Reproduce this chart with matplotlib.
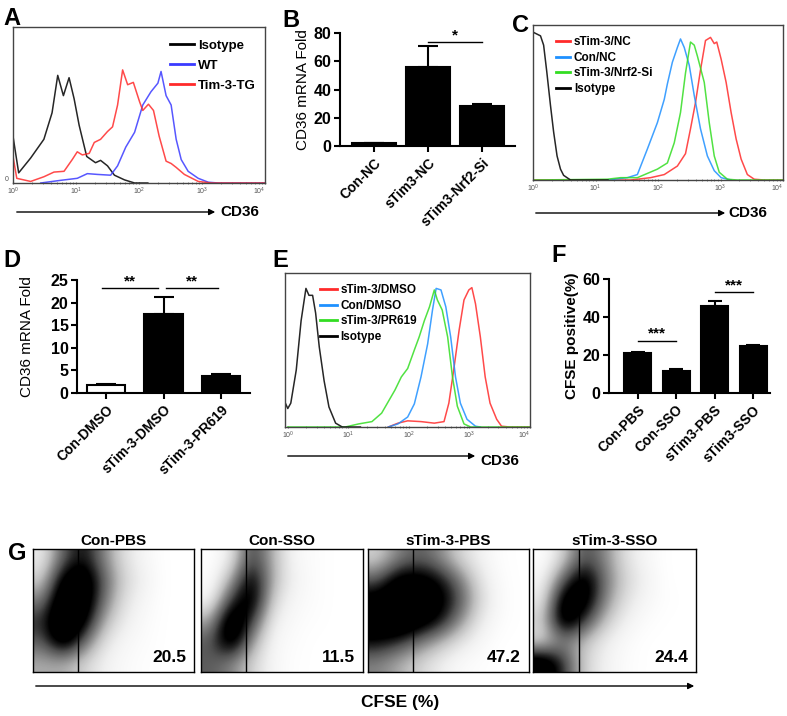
import numpy as np
import matplotlib
matplotlib.use("Agg")
from matplotlib import pyplot as plt

plt.rcParams['font.family'] = ['Liberation Sans', 'DejaVu Sans']

# ---- A: flow histograms (log10 CD36, fraction of axis height)
a_iso_x = [0, 0.09, 0.28, 0.49, 0.62, 0.71, 0.80, 0.89, 0.97, 1.05, 1.17, 1.31, 1.39, 1.50, 1.61, 1.77, 1.93, 2.14]
a_iso_y = [0.30, 0.065, 0.16, 0.28, 0.45, 0.69, 0.56, 0.675, 0.54, 0.37, 0.17, 0.13, 0.145, 0.11, 0.05, 0.02, 0.0, 0.0]
a_wt_x = [0.44, 0.755, 1.02, 1.18, 1.34, 1.55, 1.66, 1.79, 1.93, 2.06, 2.19, 2.30, 2.35, 2.43, 2.51, 2.59, 2.67, 2.78, 2.94, 3.10, 3.26, 4.0]
a_wt_y = [0.0, 0.017, 0.03, 0.06, 0.055, 0.05, 0.11, 0.23, 0.325, 0.50, 0.585, 0.64, 0.715, 0.56, 0.50, 0.28, 0.15, 0.075, 0.03, 0.005, 0.0, 0.0]
a_tg_x = [0, 0.06, 0.28, 0.49, 0.65, 0.81, 0.94, 1.02, 1.10, 1.21, 1.29, 1.39, 1.50, 1.58, 1.66, 1.74, 1.82, 1.91, 2.01, 2.06,
          2.15, 2.23, 2.32, 2.43, 2.51, 2.59, 2.72, 2.94, 3.15, 4.0]
a_tg_y = [0.17, 0.03, 0.01, 0.04, 0.07, 0.075, 0.15, 0.20, 0.18, 0.19, 0.26, 0.28, 0.33, 0.36, 0.50, 0.725, 0.63, 0.645, 0.52, 0.465,
          0.505, 0.465, 0.30, 0.14, 0.125, 0.10, 0.055, 0.01, 0.0, 0.0]

# ---- C
c_red_x = [0, 1.56, 1.88, 2.10, 2.31, 2.44, 2.52, 2.60, 2.68, 2.76, 2.84, 2.90, 2.94, 3.01, 3.09, 3.17, 3.25, 3.33, 3.43, 3.54, 3.70, 4.0]
c_red_y = [0, 0.0, 0.015, 0.035, 0.09, 0.17, 0.33, 0.50, 0.71, 0.90, 0.92, 0.88, 0.89, 0.78, 0.63, 0.435, 0.265, 0.135, 0.035, 0.005, 0.0, 0.0]
c_blue_x = [1.19, 1.51, 1.67, 1.83, 1.99, 2.10, 2.15, 2.23, 2.31, 2.36, 2.42, 2.50, 2.58, 2.68, 2.79, 2.90, 3.01, 3.17]
c_blue_y = [0.0, 0.015, 0.035, 0.20, 0.37, 0.52, 0.62, 0.76, 0.855, 0.91, 0.855, 0.74, 0.545, 0.33, 0.155, 0.06, 0.015, 0.0]
c_green_x = [0, 1.19, 1.40, 1.67, 1.99, 2.15, 2.26, 2.36, 2.44, 2.52, 2.58, 2.63, 2.74, 2.82, 2.90, 2.98, 3.11, 3.27, 4.0]
c_green_y = [0, 0.005, 0.015, 0.015, 0.07, 0.11, 0.24, 0.435, 0.69, 0.89, 0.87, 0.80, 0.63, 0.37, 0.155, 0.05, 0.005, 0.0, 0.0]
c_iso_x = [0.02, 0.12, 0.17, 0.22, 0.28, 0.33, 0.385, 0.44, 0.49, 0.60, 1.2]
c_iso_y = [0.95, 0.93, 0.87, 0.70, 0.48, 0.31, 0.155, 0.07, 0.03, 0.0, 0.0]

# ---- E
e_red_x = [1.66, 1.82, 1.98, 2.20, 2.42, 2.58, 2.66, 2.74, 2.83, 2.91, 2.99, 3.04, 3.10, 3.18, 3.26, 3.34, 3.45, 3.53, 3.67, 4.0]
e_red_y = [0.0, 0.025, 0.04, 0.035, 0.025, 0.035, 0.155, 0.37, 0.63, 0.825, 0.89, 0.905, 0.80, 0.585, 0.325, 0.155, 0.05, 0.005, 0.0, 0.0]
e_blue_x = [1.66, 1.82, 1.98, 2.09, 2.20, 2.31, 2.39, 2.45, 2.53, 2.61, 2.69, 2.77, 2.85, 2.96, 3.10, 3.18]
e_blue_y = [0.0, 0.02, 0.065, 0.15, 0.325, 0.54, 0.76, 0.90, 0.89, 0.78, 0.585, 0.325, 0.155, 0.05, 0.005, 0.0]
e_green_x = [0, 0.95, 1.17, 1.39, 1.55, 1.66, 1.77, 1.875, 1.98, 2.09, 2.17, 2.255, 2.34, 2.42, 2.47, 2.55, 2.64, 2.72, 2.80, 2.91, 3.02, 4.0]
e_green_y = [0, 0.0, 0.02, 0.035, 0.09, 0.165, 0.24, 0.325, 0.38, 0.50, 0.585, 0.69, 0.78, 0.89, 0.825, 0.76, 0.585, 0.325, 0.135, 0.02, 0.0, 0.0]
e_iso_x = [-0.04, 0.0, 0.05, 0.14, 0.22, 0.30, 0.35, 0.41, 0.46, 0.52, 0.60, 0.68, 0.79, 0.90, 1.2]
e_iso_y = [0.155, 0.12, 0.155, 0.37, 0.69, 0.90, 0.855, 0.855, 0.74, 0.52, 0.30, 0.13, 0.025, 0.0, 0.0]

# ---- bar charts
b_labels = ["Con-NC", "sTim3-NC", "sTim3-Nrf2-Si"]
b_vals = [1.8, 56, 28.5]
b_errs = [0.3, 15, 1.5]

d_labels = ["Con-DMSO", "sTim-3-DMSO", "sTim-3-PR619"]
d_vals = [1.7, 17.5, 3.8]
d_errs = [0.3, 3.8, 0.5]

f_labels = ["Con-PBS", "Con-SSO", "sTim3-PBS", "sTim3-SSO"]
f_vals = [21, 11.8, 46, 24.5]
f_errs = [0.8, 0.6, 2.5, 0.8]

# ---- G: estimated dot density (rows top->bottom, cols left->right)
g_titles = ["Con-PBS", "Con-SSO", "sTim-3-PBS", "sTim-3-SSO"]
g_values = ["20.5", "11.5", "47.2", "24.4"]
g_density = [
    [[0.10, 0.50, 0.70, 0.40, 0.15, 0.05, 0, 0],
     [0.20, 0.80, 0.90, 0.50, 0.20, 0.08, 0, 0],
     [0.40, 0.95, 0.90, 0.45, 0.15, 0.05, 0, 0],
     [0.60, 1.00, 0.80, 0.30, 0.10, 0.03, 0, 0],
     [0.50, 0.90, 0.50, 0.15, 0.05, 0.02, 0, 0],
     [0.30, 0.30, 0.20, 0.08, 0.03, 0.01, 0, 0]],
    [[0.00, 0.10, 0.60, 0.30, 0.05, 0.02, 0, 0],
     [0.00, 0.30, 0.80, 0.30, 0.08, 0.02, 0, 0],
     [0.05, 0.60, 0.85, 0.20, 0.05, 0.02, 0, 0],
     [0.30, 0.95, 0.60, 0.10, 0.03, 0.01, 0, 0],
     [0.50, 0.90, 0.35, 0.05, 0.02, 0, 0, 0],
     [0.50, 0.40, 0.20, 0.05, 0.01, 0, 0, 0]],
    [[0.20, 0.40, 0.50, 0.40, 0.20, 0.08, 0.01, 0],
     [0.50, 0.80, 0.80, 0.70, 0.45, 0.15, 0.02, 0],
     [0.80, 0.95, 0.90, 0.80, 0.55, 0.20, 0.03, 0],
     [0.90, 1.00, 0.85, 0.70, 0.40, 0.12, 0.02, 0],
     [0.70, 0.60, 0.45, 0.30, 0.15, 0.05, 0, 0],
     [0.40, 0.30, 0.20, 0.10, 0.03, 0.01, 0, 0]],
    [[0.00, 0.20, 0.55, 0.40, 0.15, 0.05, 0, 0],
     [0.05, 0.50, 0.85, 0.45, 0.20, 0.08, 0, 0],
     [0.10, 0.85, 0.85, 0.40, 0.15, 0.05, 0.01, 0],
     [0.20, 0.90, 0.60, 0.25, 0.08, 0.02, 0, 0],
     [0.15, 0.40, 0.25, 0.10, 0.03, 0, 0, 0],
     [0.90, 0.60, 0.20, 0.08, 0.02, 0, 0, 0]],
]
gate_x = 0.28

RED = "#ff2a2a"
BLUE_A = "#3a3aff"
BLUE = "#1e90ff"
GREEN = "#33dd22"

W, H = 787, 716
fig = plt.figure(figsize=(W / 100, H / 100), dpi=100)


def rect(x0, y0, x1, y1):
    return [x0 / W, 1 - y1 / H, (x1 - x0) / W, (y1 - y0) / H]


def fig_text(x, y, s, **kw):
    fig.text(x / W, 1 - y / H, s, **kw)


def fig_arrow(x0, x1, y):
    fig.add_artist(matplotlib.patches.FancyArrowPatch(
        (x0 / W, 1 - y / H), (x1 / W, 1 - y / H), transform=fig.transFigure,
        arrowstyle="-|>", mutation_scale=9, lw=1.0, color="black"))


def hist_panel(r, curves, xmin, leg_kw, zero_label=False):
    ax = fig.add_axes(r)
    for lx, ly, c, lab in curves:
        ax.plot(10 ** np.array(lx), ly, color=c, lw=1.1, label=lab, alpha=0.85)
    ax.set_xscale("log")
    ax.set_xlim(xmin, 1e4)
    ax.set_ylim(0, 1.0)
    ax.set_xticks([1, 10, 100, 1000, 10000])
    ax.tick_params(axis="x", which="both", labelsize=5, colors="#777", length=2, pad=1, direction="inout")
    ax.tick_params(axis="x", labelcolor="#555")
    ax.get_xticklabels()[-1].set_horizontalalignment("right")
    if zero_label:
        ax.set_yticks([0])
        ax.tick_params(axis="y", labelsize=5, length=0, pad=3, labelcolor="#555")
        ax.get_yticklabels()[0].set_verticalalignment("bottom")
    else:
        ax.set_yticks([])
    for s in ax.spines.values():
        s.set_linewidth(1.0)
        s.set_color("#444")
    size = leg_kw.pop("size")
    leg = ax.legend(frameon=False, prop={"weight": "bold", "size": size},
                    handletextpad=0.3, borderpad=0.2, **leg_kw)
    for ln in leg.get_lines():
        ln.set_linewidth(2)
        ln.set_alpha(1)
    return ax


def bar_panel(r, labels, vals, errs, colors, width, xlim, ylim, yticks, ylabel, ylab_weight, sigs,
              cap=6, labelpad=3):
    ax = fig.add_axes(r)
    x = np.arange(len(vals))
    ax.bar(x, vals, width=width, color=colors, edgecolor="black", linewidth=1.5, zorder=2)
    ax.errorbar(x, vals, yerr=[np.zeros(len(errs)), errs], fmt="none", ecolor="black",
                elinewidth=1.5, capsize=cap, capthick=1.5, zorder=1)
    ax.set_xlim(*xlim)
    ax.set_ylim(*ylim)
    ax.set_yticks(yticks)
    ax.set_xticks(x)
    ax.set_xticklabels(labels, rotation=45, ha="right", rotation_mode="anchor",
                       fontsize=10, fontweight="bold")
    ax.tick_params(axis="y", labelsize=11.5, width=1.5, length=4, pad=2)
    ax.tick_params(axis="x", width=1.5, length=4, pad=3)
    for lab in ax.get_yticklabels():
        lab.set_fontweight("bold")
    for s in ["top", "right"]:
        ax.spines[s].set_visible(False)
    for s in ["left", "bottom"]:
        ax.spines[s].set_linewidth(1.5)
    ax.set_ylabel(ylabel, fontsize=11, fontweight=ylab_weight, labelpad=labelpad)
    for x0, x1, y, txt in sigs:
        ax.plot([x0, x1], [y, y], color="black", lw=1.0, clip_on=False)
        ax.text((x0 + x1) / 2, y, txt, ha="center", va="bottom", fontsize=11, fontweight="bold")
    return ax


# A
hist_panel(rect(13, 27, 265, 183),
           [(a_iso_x, a_iso_y, "black", "Isotype"),
            (a_wt_x, a_wt_y, BLUE_A, "WT"),
            (a_tg_x, a_tg_y, RED, "Tim-3-TG")],
           1, dict(loc="upper right", handlelength=1.8, size=9.5, labelspacing=0.6,
                   bbox_to_anchor=(1.0, 0.98)), zero_label=True)
fig_arrow(14, 218, 212)
fig_text(220, 212, "CD36", fontsize=11, fontweight="bold", va="center")

# C
hist_panel(rect(533, 25, 783, 180),
           [(c_red_x, c_red_y, RED, "sTim-3/NC"),
            (c_blue_x, c_blue_y, BLUE, "Con/NC"),
            (c_green_x, c_green_y, GREEN, "sTim-3/Nrf2-Si"),
            (c_iso_x, c_iso_y, "black", "Isotype")],
           1, dict(loc="upper left", handlelength=1.2, size=8.5, labelspacing=0.3,
                   bbox_to_anchor=(0.06, 0.98)))
fig_arrow(533, 728, 213)
fig_text(728, 213, "CD36", fontsize=11, fontweight="bold", va="center")

# E
hist_panel(rect(285, 273, 530, 427),
           [(e_red_x, e_red_y, RED, "sTim-3/DMSO"),
            (e_blue_x, e_blue_y, BLUE, "Con/DMSO"),
            (e_green_x, e_green_y, GREEN, "sTim-3/PR619"),
            (e_iso_x, e_iso_y, "black", "Isotype")],
           0.9, dict(loc="upper left", handlelength=1.4, size=8.5, labelspacing=0.3,
                     bbox_to_anchor=(0.11, 0.98)))
fig_arrow(285, 478, 456)
fig_text(480, 461, "CD36", fontsize=11, fontweight="bold", va="center")

# B
bar_panel(rect(340, 33, 515, 146), b_labels, b_vals, b_errs, ["black"] * 3, 0.83,
          (-0.63, 2.61), (0, 80), [0, 20, 40, 60, 80], "CD36 mRNA Fold", "normal",
          [(1, 2, 73.5, "*")], cap=7)

# D
bar_panel(rect(77, 280, 250, 393), d_labels, d_vals, d_errs, ["white", "black", "black"], 0.66,
          (-0.5, 2.5), (0, 25), [0, 5, 10, 15, 20, 25], "CD36 mRNA Fold", "normal",
          [(-0.07, 0.9, 23.2, "**"), (1.04, 1.95, 23.2, "**")], cap=7, labelpad=12)

# F
bar_panel(rect(609, 279, 770, 393), f_labels, f_vals, f_errs, ["black"] * 4, 0.70,
          (-0.74, 3.44), (0, 60), [0, 20, 40, 60], "CFSE positive(%)", "bold",
          [(0, 1, 27.4, "***"), (2, 3, 53, "***")], cap=5)

# G
g_boxes = [(33, 194), (201, 363), (368, 529), (533, 696)]
for (x0, x1), title, val, dens in zip(g_boxes, g_titles, g_values, g_density):
    ax = fig.add_axes(rect(x0, 549, x1, 672))
    ax.imshow(np.array(dens), cmap="Greys", vmin=0, vmax=0.7, interpolation="bicubic",
              extent=[0, 1, 0, 1], aspect="auto")
    ax.axvline(gate_x, color="black", lw=1.0)
    ax.set_xlim(0, 1)
    ax.set_ylim(0, 1)
    ax.set_xticks([])
    ax.set_yticks([])
    for s in ax.spines.values():
        s.set_linewidth(1.0)
    ax.set_title(title, fontsize=11, fontweight="bold", pad=3)
    ax.text(0.95, 0.06, val, transform=ax.transAxes, ha="right", va="bottom",
            fontsize=12.5, fontweight="bold")
fig_arrow(33, 697, 686)
fig_text(400, 703, "CFSE (%)", fontsize=12.5, fontweight="bold", ha="center", va="center")

# panel letters
for lab, x, y in [("A", 3, 25), ("B", 282, 27), ("C", 512, 32), ("D", 3, 267),
                  ("E", 272, 267), ("F", 551, 262), ("G", 8, 560)]:
    fig_text(x, y, lab, fontsize=17, fontweight="bold", va="baseline")

fig.savefig("out.png", dpi=100)
